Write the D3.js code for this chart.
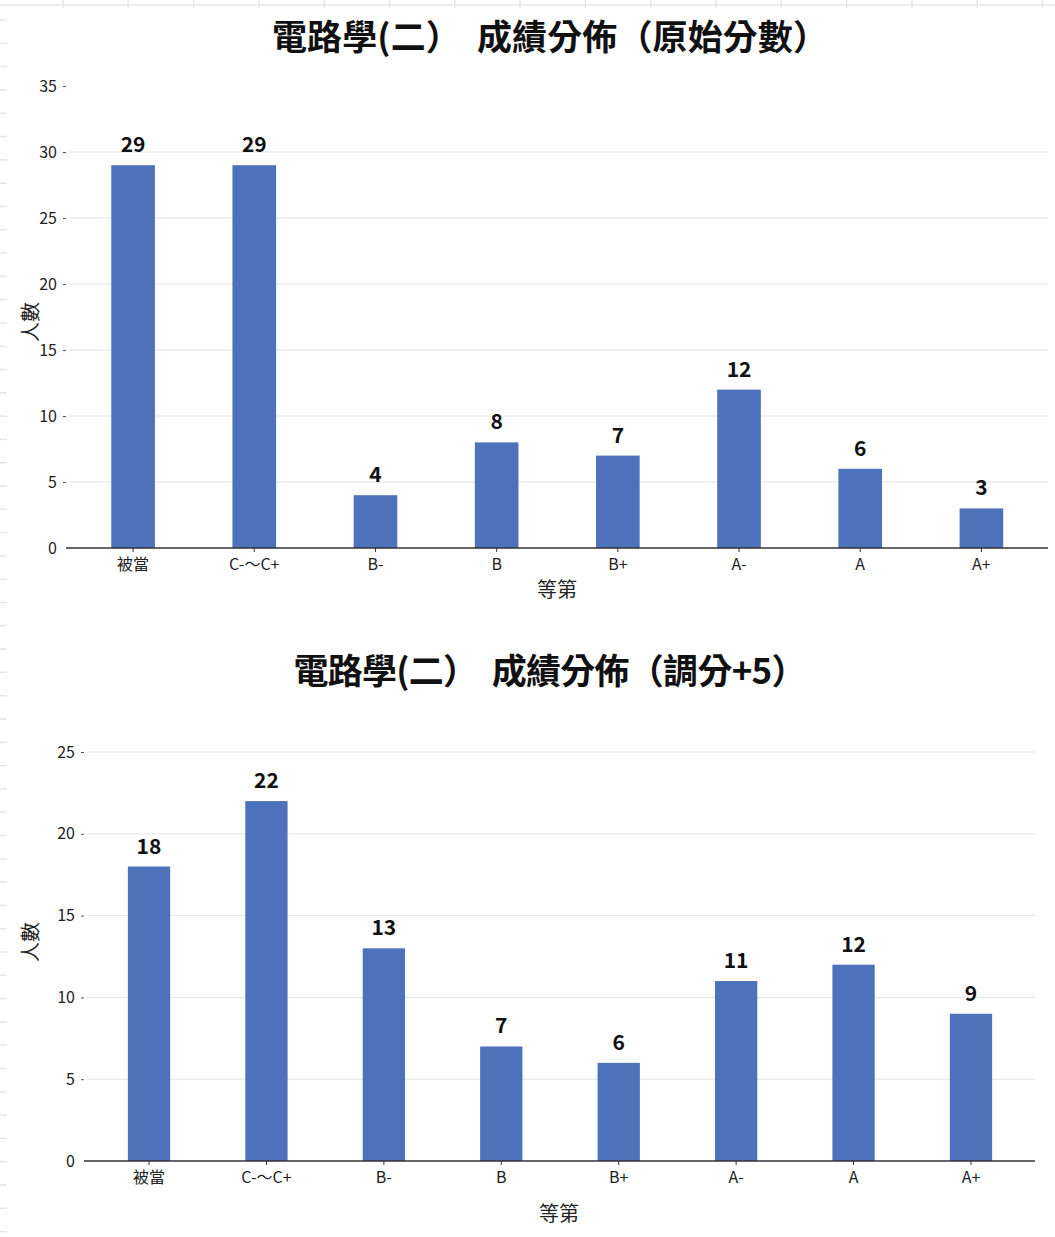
<!DOCTYPE html>
<html>
<head>
  <meta charset="utf-8">
  <title>電路學(二) 成績分佈</title>
  <style>
    body { margin: 0; background: #fff; }
    text { font-family: "Noto Sans CJK TC", "Noto Sans CJK SC", sans-serif; }
  </style>
</head>
<body>
  <svg id="main" width="1055" height="1237"></svg>

  <script src="https://cdn.jsdelivr.net/npm/d3@7/dist/d3.min.js"></script>
  <script>
    const grades = ['被當', 'C-～C+', 'B-', 'B', 'B+', 'A-', 'A', 'A+']
    const rawCounts = [29, 29, 4, 8, 7, 12, 6, 3]
    const curvedCounts = [18, 22, 13, 7, 6, 11, 12, 9]
    const rawTicks = [0, 5, 10, 15, 20, 25, 30, 35]
    const curvedTicks = [0, 5, 10, 15, 20, 25]

    const svg = d3.select('#main')
    const barColor = '#4e71bc'

    // faint spreadsheet cell lines behind the screenshot
    const deco = svg.append('g').attr('stroke', '#e6e6e6').attr('stroke-width', 1.5)
    deco.append('line').attr('x1', 0).attr('x2', 1055).attr('y1', 5).attr('y2', 5)
    deco.selectAll('.vt').data(d3.range(63, 1055, 65.3)).join('line')
      .attr('x1', d => d).attr('x2', d => d).attr('y1', 0).attr('y2', 8)
    deco.selectAll('.ld').data(d3.range(20, 1237, 23.3)).join('line')
      .attr('x1', 0).attr('x2', 7).attr('y1', d => d).attr('y2', d => d)

    function drawChart(opt) {
      const g = svg.append('g')
      const x = d3.scaleBand().domain(grades).range([opt.x0, opt.x1]).paddingInner(0.64).paddingOuter(0.32)
      const y = d3.scaleLinear().domain([0, opt.yMax]).range([opt.yBottom, opt.yTop])

      g.append('text')
        .attr('x', opt.titleX).attr('y', opt.titleY)
        .attr('text-anchor', 'middle')
        .attr('font-size', 35).attr('font-weight', 'bold').attr('fill', '#111')
        .attr('textLength', opt.titleWidth).attr('lengthAdjust', 'spacing')
        .style('white-space', 'pre')
        .text(opt.title)

      // grid
      g.append('g').selectAll('line')
        .data(opt.ticks.filter(t => t > 0 && t <= opt.gridMax))
        .join('line')
        .attr('x1', opt.axisX0 + 3).attr('x2', opt.gridX1)
        .attr('y1', d => y(d)).attr('y2', d => y(d))
        .attr('stroke', '#e3e3e3').attr('stroke-width', 1)

      // y axis (ticks only, no domain line)
      const yAxis = g.append('g')
        .attr('transform', `translate(${opt.axisX0},0)`)
        .call(d3.axisLeft(y).tickValues(opt.ticks).tickSize(3).tickPadding(6))
      yAxis.select('.domain').remove()
      yAxis.selectAll('.tick line').attr('stroke', '#555')
      yAxis.selectAll('.tick text').attr('font-size', 16).attr('fill', '#222')
        .style('font-family', '"Noto Sans CJK TC", sans-serif')
      yAxis.select('.tick:first-of-type line').remove()

      // bars
      g.append('g').selectAll('rect')
        .data(opt.values)
        .join('rect')
        .attr('x', (d, i) => x(grades[i]))
        .attr('width', x.bandwidth())
        .attr('y', d => y(d))
        .attr('height', d => y(0) - y(d))
        .attr('fill', barColor)

      // value labels
      g.append('g').selectAll('text')
        .data(opt.values)
        .join('text')
        .attr('x', (d, i) => x(grades[i]) + x.bandwidth() / 2)
        .attr('y', d => y(d) - 13)
        .attr('text-anchor', 'middle')
        .attr('font-size', 21).attr('font-weight', 'bold').attr('fill', '#111')
        .text(d => d)

      // x axis
      const xAxis = g.append('g')
        .attr('transform', `translate(0,${opt.yBottom})`)
        .call(d3.axisBottom(x).tickSize(4).tickPadding(7))
      xAxis.select('.domain').attr('d', `M${opt.axisX0},0H${opt.gridX1}`).attr('stroke', '#333').attr('stroke-width', 1.5)
      xAxis.selectAll('.tick line').attr('stroke', '#333')
      xAxis.selectAll('.tick text').attr('font-size', 16).attr('fill', '#222')
        .style('font-family', '"Noto Sans CJK TC", sans-serif')

      g.append('text')
        .attr('x', opt.xTitleX).attr('y', opt.xTitleY)
        .attr('text-anchor', 'middle').attr('font-size', 20).attr('fill', '#222')
        .text('等第')

      g.append('text')
        .attr('transform', `translate(${opt.yTitleX},${opt.yTitleY}) rotate(-90)`)
        .attr('text-anchor', 'middle').attr('font-size', 20).attr('fill', '#222')
        .text('人數')
    }

    drawChart({
      title: '電路學(二）  成績分佈（原始分數）',
      titleX: 550, titleY: 50, titleWidth: 556,
      values: rawCounts, ticks: rawTicks, yMax: 35, gridMax: 30,
      x0: 72.5, x1: 1042, yTop: 86, yBottom: 548,
      axisX0: 66, gridX1: 1048,
      xTitleX: 557, xTitleY: 597,
      yTitleX: 38, yTitleY: 322
    })

    drawChart({
      title: '電路學(二）  成績分佈（調分+5）',
      titleX: 550, titleY: 684, titleWidth: 513,
      values: curvedCounts, ticks: curvedTicks, yMax: 25, gridMax: 25,
      x0: 90.3, x1: 1029.7, yTop: 752, yBottom: 1161,
      axisX0: 84, gridX1: 1035,
      xTitleX: 559, xTitleY: 1221,
      yTitleX: 38, yTitleY: 942
    })
  </script>
</body>
</html>
